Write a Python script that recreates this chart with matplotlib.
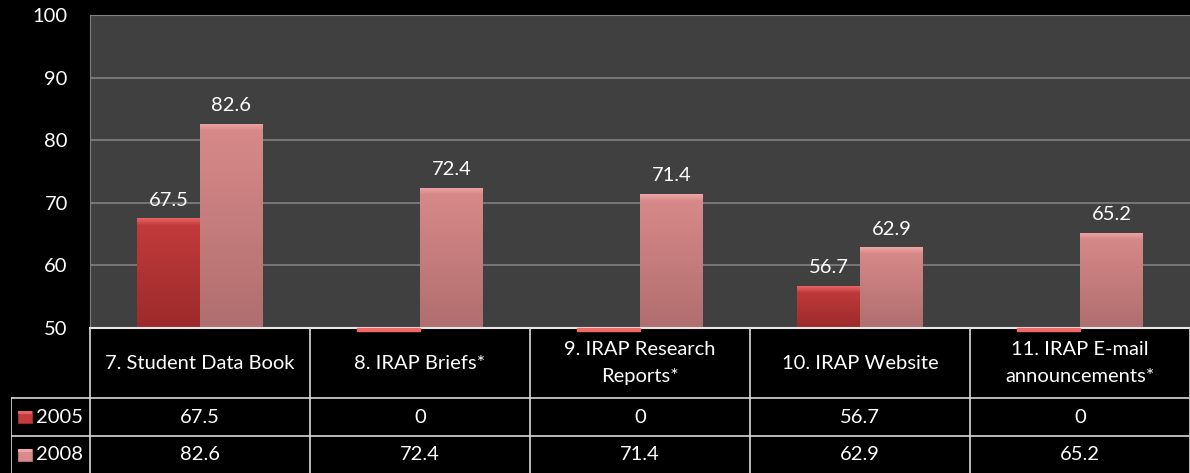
import numpy as np
import matplotlib.pyplot as plt
from matplotlib.patches import Rectangle
from matplotlib.colors import to_rgb

# data
categories = ["7. Student Data Book", "8. IRAP Briefs*", "9. IRAP Research\nReports*",
              "10. IRAP Website", "11. IRAP E-mail\nannouncements*"]
series_names = ["2005", "2008"]
values_2005 = [67.5, 0, 0, 56.7, 0]
values_2008 = [82.6, 72.4, 71.4, 62.9, 65.2]
y_ticks = [50, 60, 70, 80, 90, 100]

plt.rcParams['font.family'] = ['Lato', 'DejaVu Sans']
FS = 14.5

W, H = 1190, 473
fig = plt.figure(figsize=(W / 100, H / 100), dpi=100, facecolor='black')

# main plot area
ax = fig.add_axes([90 / W, 145 / H, 1100 / W, 313 / H])
ax.set_facecolor('#404040')
ymin, ymax = y_ticks[0], y_ticks[-1]

bar_w = 63 / 220
# (bottom, body, top highlight) colours per series
styles = {
    "2005": ('#9c2a2a', '#c43c3c', '#e86464'),
    "2008": ('#b06e6e', '#d98a8a', '#eea6a6'),
}


def draw_bar(x, v, cols):
    bot, body, hi = [np.array(to_rgb(c)) for c in cols]
    if v < ymin:
        # Excel shows a thin strip under the axis for off-scale values
        ax.add_patch(Rectangle((x - bar_w / 2, ymin - 0.45), bar_w, 0.45,
                               color='#f06a6a', clip_on=False, zorder=3))
        return
    rect = Rectangle((x - bar_w / 2, ymin), bar_w, v - ymin,
                     facecolor=body, edgecolor='none', zorder=2)
    ax.add_patch(rect)
    ys = np.linspace(ymin, v, 400)
    t = ((ys - ymin) / (v - ymin))[:, None]
    rgb = bot + (body - bot) * t
    d = (v - ys)[:, None]
    w = np.clip(1 - d / 1.1, 0, 1)
    rgb = rgb * (1 - w) + hi * w
    img = np.repeat(rgb[:, None, :], 2, axis=1)
    im = ax.imshow(img, extent=[x - bar_w / 2, x + bar_w / 2, ymin, v],
                   origin='lower', aspect='auto', zorder=2.1, interpolation='bilinear')
    im.set_clip_path(rect)


xs = np.arange(len(categories))
for k, (name, vals) in enumerate(zip(series_names, [values_2005, values_2008])):
    off = (k - 0.5) * bar_w
    for x, v in zip(xs, vals):
        draw_bar(x + off, v, styles[name])
        if v >= ymin:
            ax.annotate(f"{v:g}", (x + off, v), xytext=(0, 7), textcoords='offset points',
                        ha='center', va='bottom', color='white', fontsize=FS, zorder=4)

ax.set_xlim(-0.5, len(categories) - 0.5)
ax.set_ylim(ymin, ymax)
ax.set_yticks(y_ticks)
ax.set_xticks([])
ax.tick_params(axis='y', colors='white', labelsize=FS, length=0, pad=16)
ax.yaxis.grid(True, color='#808080', linewidth=1.2)
ax.set_axisbelow(True)
ax.spines['left'].set_color('#808080')
ax.spines['top'].set_color('#808080')
ax.spines['right'].set_visible(False)
ax.spines['bottom'].set_color('#e6e6e6')
ax.spines['bottom'].set_linewidth(1.5)

# data table under the plot
lab_w = 79 / 220
x_left = -0.5 - lab_w
x_right = len(categories) - 0.5
tx = fig.add_axes([11 / W, 0, 1179 / W, 145 / H])
tx.set_xlim(x_left, x_right)
tx.set_ylim(145, 0)
tx.axis('off')

line_c = '#d9d9d9'
lw = 1.2
row_tops = [0, 70, 108, 145]
tx.plot([x_left, x_right], [70, 70], color=line_c, lw=lw)
tx.plot([x_left, x_right], [108, 108], color=line_c, lw=lw)
tx.plot([x_left, x_left], [70, 145], color=line_c, lw=lw)
for i in range(len(categories) + 1):
    tx.plot([i - 0.5, i - 0.5], [0, 145], color=line_c, lw=lw)

for i, cat in enumerate(categories):
    tx.text(i, 35, cat, ha='center', va='center', color='white', fontsize=FS,
            linespacing=1.65)

for r, (name, vals) in enumerate(zip(series_names, [values_2005, values_2008])):
    yc = (row_tops[r + 1] + row_tops[r + 2]) / 2
    for i, v in enumerate(vals):
        tx.text(i, yc, f"{v:g}", ha='center', va='center', color='white', fontsize=FS)
    bot, body, hi = styles[name]
    tx.add_patch(Rectangle((x_left + 7 / 220, yc - 6), 14 / 220, 12,
                           facecolor=body, edgecolor=bot, lw=0.8))
    tx.add_patch(Rectangle((x_left + 7 / 220, yc - 6), 14 / 220, 3,
                           facecolor=hi, edgecolor='none'))
    tx.text(x_left + 25 / 220, yc, name, ha='left', va='center', color='white', fontsize=FS)

fig.savefig('out.png', dpi=100, facecolor='black')
